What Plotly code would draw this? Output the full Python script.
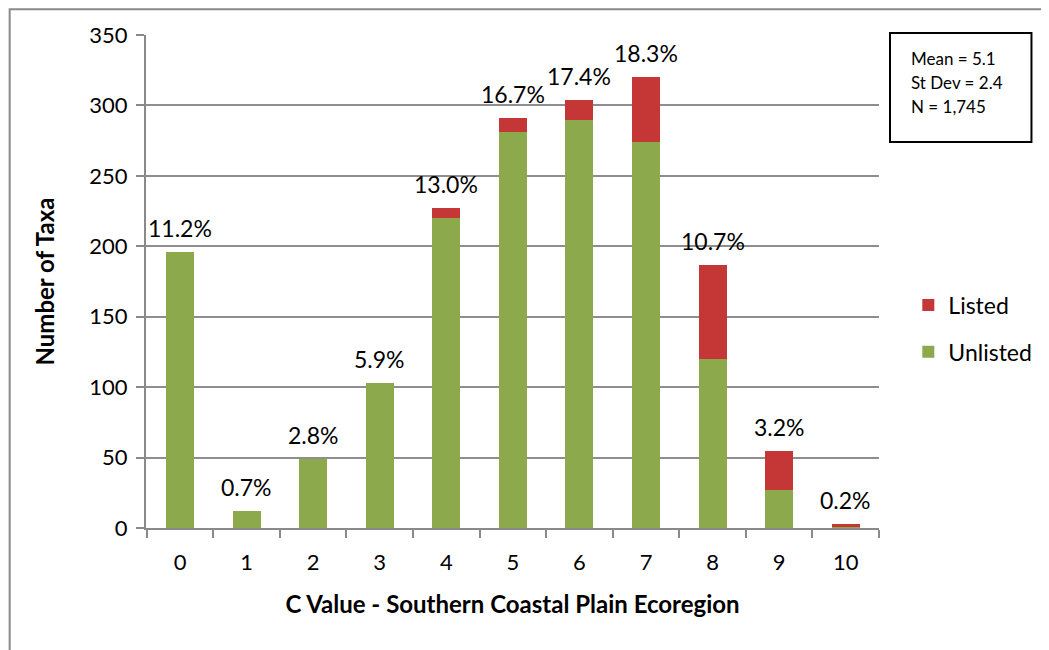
import plotly.graph_objects as go

# C value classes and taxa counts
c_values = ["0", "1", "2", "3", "4", "5", "6", "7", "8", "9", "10"]
unlisted = [196, 12, 49, 103, 220, 281, 290, 274, 120, 27, 1]
listed = [0, 0, 0, 0, 7, 10, 14, 46, 67, 28, 2]
pct_labels = ["11.2%", "0.7%", "2.8%", "5.9%", "13.0%", "16.7%",
              "17.4%", "18.3%", "10.7%", "3.2%", "0.2%"]
stats_lines = ["Mean = 5.1", "St Dev = 2.4", "N = 1,745"]

totals = [u + l for u, l in zip(unlisted, listed)]

font_family = "Lato, 'Open Sans', sans-serif"

fig = go.Figure()
fig.add_trace(go.Bar(x=c_values, y=unlisted, name="Unlisted", legendgroup="u",
                     legendrank=2,
                     marker=dict(color="#8CAA4B", line=dict(width=0))))
fig.add_trace(go.Bar(x=c_values, y=listed, name="Listed", legendgroup="l",
                     legendrank=1,
                     marker=dict(color="#C53636", line=dict(width=0))))

# percent labels above each stacked bar
for c, t, lab in zip(c_values, totals, pct_labels):
    fig.add_annotation(x=c, y=t, text=lab, showarrow=False, yanchor="bottom",
                       yshift=8, font=dict(size=23, color="#000000"))

# stats box
fig.add_shape(type="rect", xref="paper", yref="paper",
              x0=1.015, x1=1.208, y0=0.783, y1=1.004,
              line=dict(color="#000000", width=2), fillcolor="white")
for i, s in enumerate(stats_lines):
    fig.add_annotation(xref="paper", yref="paper", x=1.041, y=0.952 - i * 0.049,
                       text=s, showarrow=False, xanchor="left", yanchor="middle",
                       font=dict(size=17, color="#000000"))

# outer chart-area border (left and top edges visible)
fig.add_shape(type="rect", xref="paper", yref="paper",
              x0=-0.186, x1=1.25, y0=-0.3, y1=1.052,
              line=dict(color="#8a8a8a", width=2), layer="below")

fig.update_layout(
    width=1041, height=642,
    margin=dict(l=138, r=167, t=27, b=122),
    barmode="stack", bargap=0.58,
    plot_bgcolor="white", paper_bgcolor="white",
    font=dict(family=font_family, size=22, color="#000000"),
    legend=dict(x=1.04, y=0.496, xanchor="left", yanchor="top",
                traceorder="grouped", tracegroupgap=14,
                font=dict(size=23), bgcolor="rgba(0,0,0,0)"),
    xaxis=dict(type="category", showline=True, linecolor="#8a8a8a", linewidth=2,
               ticks="outside", tickson="boundaries", ticklen=8, tickcolor="#8a8a8a",
               tickwidth=2, showgrid=False, ticklabelstandoff=14,
               title=dict(text="<b>C Value - Southern Coastal Plain Ecoregion</b>",
                          font=dict(size=24), standoff=22)),
    yaxis=dict(range=[0, 350], dtick=50, showline=True, linecolor="#8a8a8a", linewidth=2,
               ticks="outside", ticklen=8, tickcolor="#8a8a8a", tickwidth=2,
               showgrid=True, gridcolor="#8e8e8e", gridwidth=1.5, zeroline=False,
               ticklabelstandoff=4,
               title=dict(text="<b>Number of Taxa</b>", font=dict(size=24), standoff=28)),
)

fig.write_html("out.html")
